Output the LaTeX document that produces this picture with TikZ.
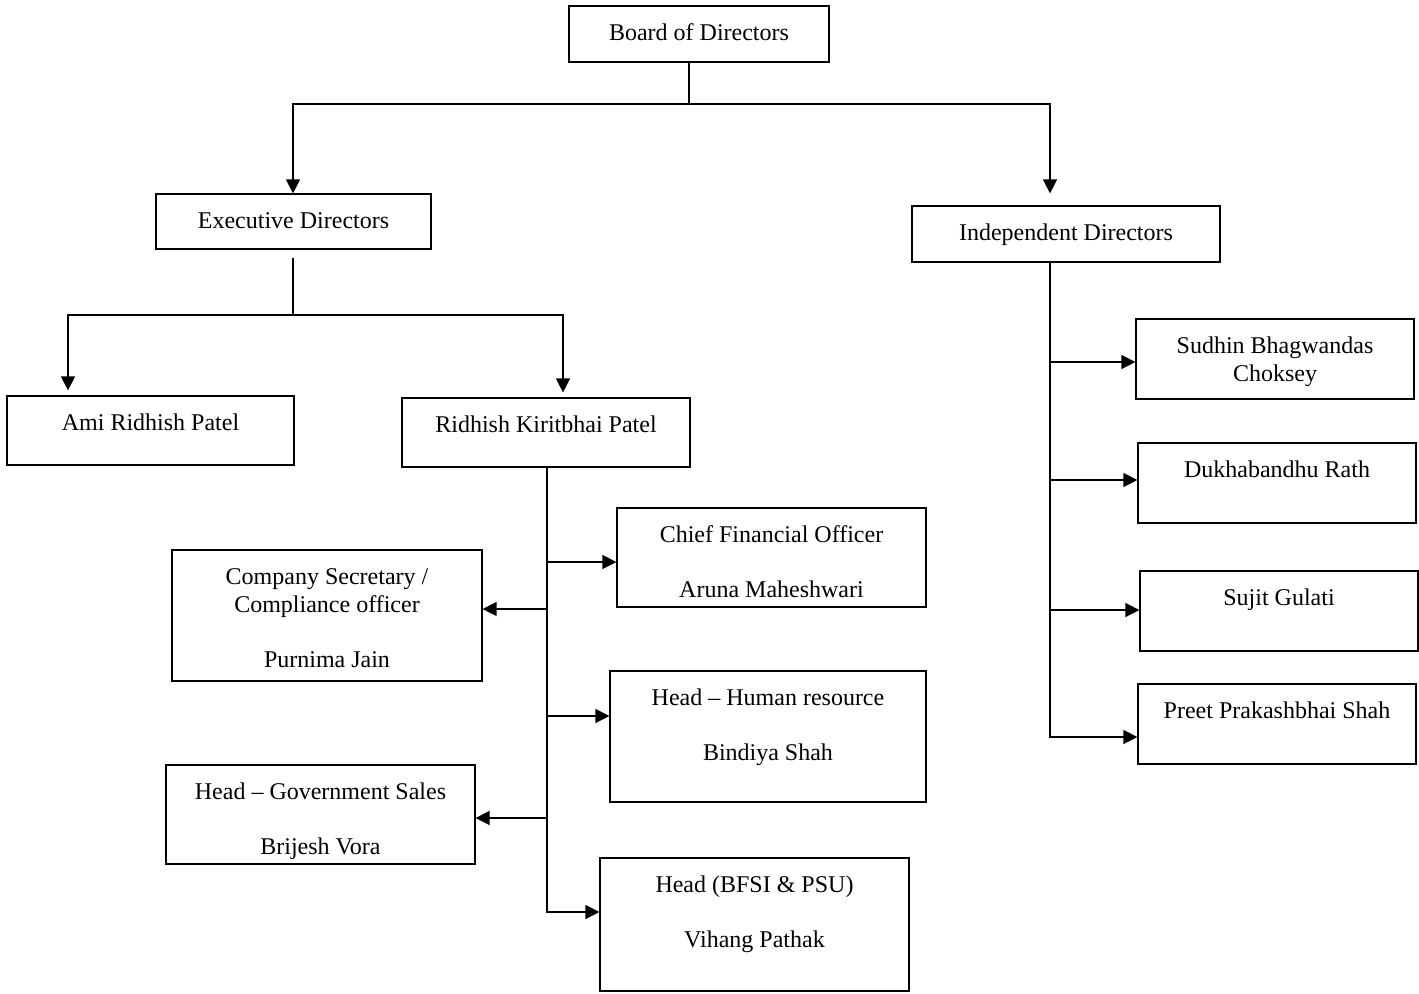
\documentclass[tikz,border=0pt]{standalone}
\usepackage{fontspec}
\setmainfont{Liberation Serif}
\usetikzlibrary{arrows.meta,fit}
\tikzset{
  org box/.style={draw=black,line width=0.6pt,inner sep=0pt},
  org text/.style={anchor=base,inner sep=0pt,
    font=\fontsize{12}{13.8}\selectfont},
  org edge/.style={black,line width=0.65pt},
  org arrow/.style={org edge,-{Triangle[length=7pt,width=7pt]}}
}
\newcommand{\orgboxat}[4]{%
  \node[org box,fit={(#2) (#3)}] (#1) {};
  \node[org text] (#1-t) at ([yshift=-17.5pt]#1.north)
    {\begin{tabular}[t]{@{}c@{}}#4\end{tabular}};%
}

\begin{document}
\begin{tikzpicture}[x=0.5pt,y=-0.5pt]
  \useasboundingbox (0,0) rectangle (1419,993);

  \orgboxat{board}{569,6}{829,62}{Board of Directors}
  \orgboxat{exec}{156,194}{431,249}{Executive Directors}
  \orgboxat{indep}{912,206}{1220,262}{Independent Directors}
  \orgboxat{ami}{7,396}{294,465}{Ami Ridhish Patel}
  \orgboxat{ridhish}{402,398}{690,467}{Ridhish Kiritbhai Patel}
  \orgboxat{cfo}{617,508}{926,607}{Chief Financial Officer\\[13.8pt]Aruna Maheshwari}
  \orgboxat{cs}{172,550}{482,681}{Company Secretary /\\Compliance officer\\[13.8pt]Purnima Jain}
  \orgboxat{hr}{610,671}{926,802}{Head – Human resource\\[13.8pt]Bindiya Shah}
  \orgboxat{gov}{166,765}{475,864}{Head – Government Sales\\[13.8pt]Brijesh Vora}
  \orgboxat{bfsi}{600,858}{909,991}{Head (BFSI \& PSU)\\[13.8pt]Vihang Pathak}
  \orgboxat{sudhin}{1136,319}{1414,399}{Sudhin Bhagwandas\\Choksey}
  \orgboxat{dukha}{1138,443}{1416,523}{Dukhabandhu Rath}
  \orgboxat{sujit}{1140,571}{1418,651}{Sujit Gulati}
  \orgboxat{preet}{1138,684}{1416,764}{Preet Prakashbhai Shah}

  % board splits into the two groups
  \coordinate (bj) at (689,104);
  \coordinate (be) at (293,104);
  \coordinate (bi) at (1050,104);
  \draw[org edge] (board.south -| bj) -- (bj);
  \draw[org arrow] (bj) -- (be) -- (be |- exec.north);
  \draw[org arrow] (bj) -- (bi) -- ([yshift=6pt]bi |- indep.north);

  % executive directors
  \coordinate (ej) at (293,315);
  \coordinate (ea) at (68,315);
  \coordinate (er) at (563,315);
  \draw[org edge] ([yshift=-4pt]exec.south -| ej) -- (ej);
  \draw[org arrow] (ej) -- (ea) -- ([yshift=2.5pt]ea |- ami.north);
  \draw[org arrow] (ej) -- (er) -- ([yshift=2.5pt]er |- ridhish.north);

  % reports to Ridhish
  \coordinate (rt) at (547,912);
  \draw[org arrow] (ridhish.south -| rt) -- (rt) -- (rt -| bfsi.west);
  \foreach \n/\y in {cfo/562,hr/716}{
    \coordinate (\n-j) at (547,\y);
    \draw[org arrow] (\n-j) -- (\n-j -| \n.west);
  }
  \foreach \n/\y in {cs/609,gov/818}{
    \coordinate (\n-j) at (547,\y);
    \draw[org arrow] (\n-j) -- (\n-j -| \n.east);
  }

  % independent directors
  \coordinate (it) at (1050,737);
  \draw[org arrow] (indep.south -| it) -- (it) -- (it -| preet.west);
  \foreach \n/\y in {sudhin/362,dukha/480,sujit/610}{
    \coordinate (\n-j) at (1050,\y);
    \draw[org arrow] (\n-j) -- (\n-j -| \n.west);
  }
\end{tikzpicture}
\end{document}
